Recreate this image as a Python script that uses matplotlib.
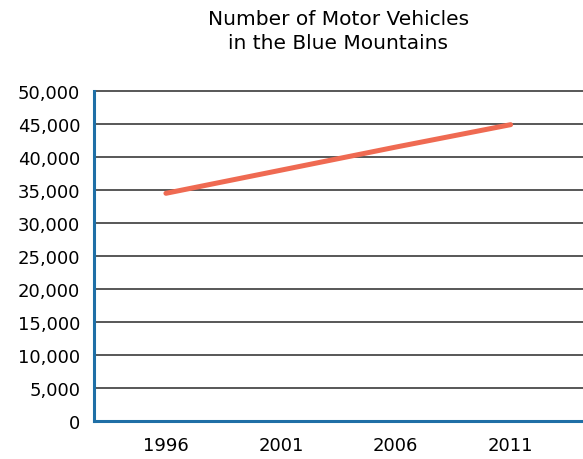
import matplotlib
matplotlib.use('Agg')
import matplotlib.pyplot as plt
from matplotlib.ticker import FuncFormatter

# data
years = [1996, 2001, 2006, 2011]
vehicles = [34500, 38000, 41500, 44900]
y_ticks = list(range(0, 50001, 5000))

plt.rcParams['font.family'] = ['DejaVu Sans']

fig = plt.figure(figsize=(5.83, 4.6), dpi=100)
ax = fig.add_axes([94 / 583, 1 - 422 / 460, 1 - 94 / 583, (422 - 92) / 460])

ax.plot(years, vehicles, color='#ef6a52', linewidth=3.6, solid_capstyle='round', zorder=3)

ax.set_xlim(1992.87, 2014.15)
ax.set_ylim(0, 50000)
ax.set_xticks(years)
ax.set_yticks(y_ticks)
ax.yaxis.set_major_formatter(FuncFormatter(lambda v, p: f"{int(v):,}"))

ax.grid(axis='y', color='#2a2a2a', linewidth=1.1)
for gl in ax.get_ygridlines():
    gl.set_clip_on(False)
ax.set_axisbelow(True)
ax.tick_params(axis='both', length=0, labelsize=13, colors='black')
ax.tick_params(axis='y', pad=10)
ax.tick_params(axis='x', pad=11)

for side in ['top', 'right']:
    ax.spines[side].set_visible(False)
for side in ['left', 'bottom']:
    ax.spines[side].set_color('#1f6fa6')
    ax.spines[side].set_linewidth(2.2)

ax.set_title('Number of Motor Vehicles\nin the Blue Mountains', fontsize=14.5, pad=31, linespacing=1.32)

fig.savefig('out.png', dpi=100)
